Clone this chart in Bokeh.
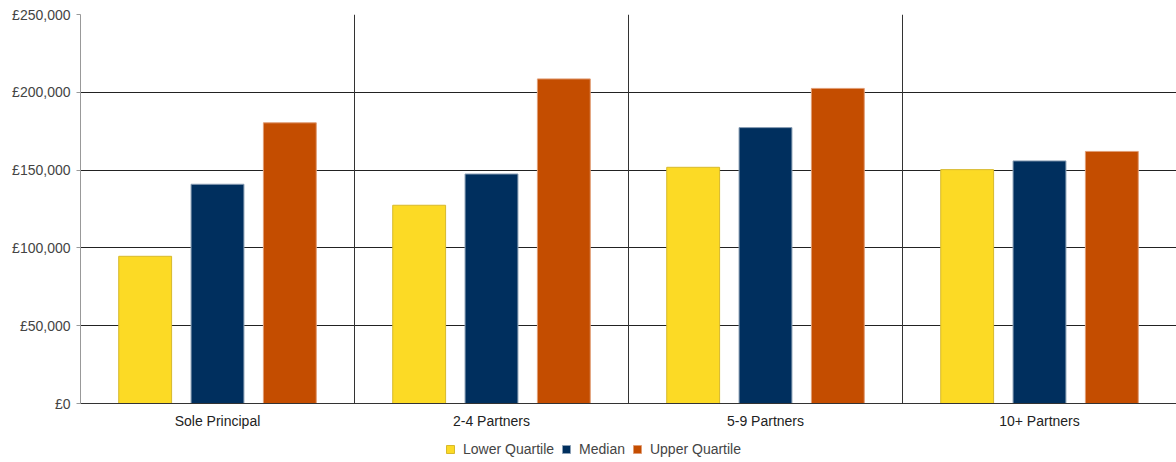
from bokeh.plotting import figure
from bokeh.layouts import column
from bokeh.models import ColumnDataSource, FactorRange, Range1d, Span, Legend, LegendItem, FixedTicker
from bokeh.transform import dodge
from bokeh.embed import file_html
from bokeh.resources import INLINE

categories = ["Sole Principal", "2-4 Partners", "5-9 Partners", "10+ Partners"]
series_names = ["Lower Quartile", "Median", "Upper Quartile"]
lower_quartile = [94600, 127400, 151800, 150300]
median = [140900, 147500, 177300, 155900]
upper_quartile = [180400, 208600, 202500, 162000]
y_ticks = [0, 50000, 100000, 150000, 200000, 250000]
y_tick_labels = ["£0", "£50,000", "£100,000", "£150,000", "£200,000", "£250,000"]

FONT = "Liberation Sans"

source = ColumnDataSource(data=dict(cat=categories, lq=lower_quartile, med=median, uq=upper_quartile))

p = figure(width=1176, height=432, x_range=FactorRange(*categories), y_range=Range1d(0, 250000),
           output_backend="svg", toolbar_location=None,
           min_border_left=80, min_border_right=0, min_border_top=14, min_border_bottom=29)
p.outline_line_color = None

fills = ["#FCDA25", "#002F5E", "#C44D00"]
lines = ["#D7B92C", "#8A9FB5", "#E09C74"]
offsets = [-0.264, 0.0, 0.264]
cols = ["lq", "med", "uq"]
for col, off, fc, lc in zip(cols, offsets, fills, lines):
    p.vbar(x=dodge("cat", off, range=p.x_range), top=col, width=0.193, bottom=0,
           source=source, fill_color=fc, line_color=lc, line_width=1)

# category separators
for i in range(1, len(categories)):
    p.add_layout(Span(location=i, dimension="height", line_color="#333333", line_width=1))

p.yaxis.ticker = FixedTicker(ticks=y_ticks)
p.yaxis.major_label_overrides = {t: l for t, l in zip(y_ticks, y_tick_labels)}
p.yaxis.major_label_text_font = FONT
p.yaxis.major_label_text_font_size = "14px"
p.yaxis.major_label_text_color = "#444444"
p.yaxis.axis_line_color = "#999999"
p.yaxis.major_tick_line_color = "#999999"
p.yaxis.major_tick_in = 0
p.yaxis.major_tick_out = 4
p.yaxis.minor_tick_line_color = None
p.yaxis.major_label_standoff = 6

p.xaxis.major_label_text_font = FONT
p.xaxis.major_label_text_font_size = "14px"
p.xaxis.major_label_text_color = "#222222"
p.xaxis.axis_line_color = "#333333"
p.xaxis.major_tick_line_color = None
p.xaxis.major_tick_out = 0
p.xaxis.major_label_standoff = 9

p.ygrid.ticker = FixedTicker(ticks=y_ticks)
p.ygrid.grid_line_color = "#222222"
p.ygrid.grid_line_width = 1
p.xgrid.grid_line_color = None

# legend strip below the chart (proxy renderers lie outside its visible range)
lg = figure(width=1176, height=30, x_range=Range1d(0, 1), y_range=Range1d(0, 1),
            output_backend="svg", toolbar_location=None, x_axis_type=None, y_axis_type=None,
            min_border_left=0, min_border_right=0, min_border_top=0, min_border_bottom=0)
lg.outline_line_color = None
lg.xgrid.grid_line_color = None
lg.ygrid.grid_line_color = None
items = []
for name, fc, lc in zip(series_names, fills, lines):
    r = lg.vbar(x=[-5], top=[0], bottom=[0], width=0.1, fill_color=fc, line_color=lc)
    items.append(LegendItem(label=name, renderers=[r]))

legend = Legend(items=items, orientation="horizontal", location=(365, 5),
                glyph_width=10, glyph_height=10, label_standoff=8, spacing=7,
                padding=0, margin=0, border_line_color=None, background_fill_alpha=0,
                label_text_font=FONT, label_text_font_size="14px", label_text_color="#444444")
lg.add_layout(legend, "center")

open("out.html", "w").write(file_html(column(p, lg, spacing=0), INLINE))
